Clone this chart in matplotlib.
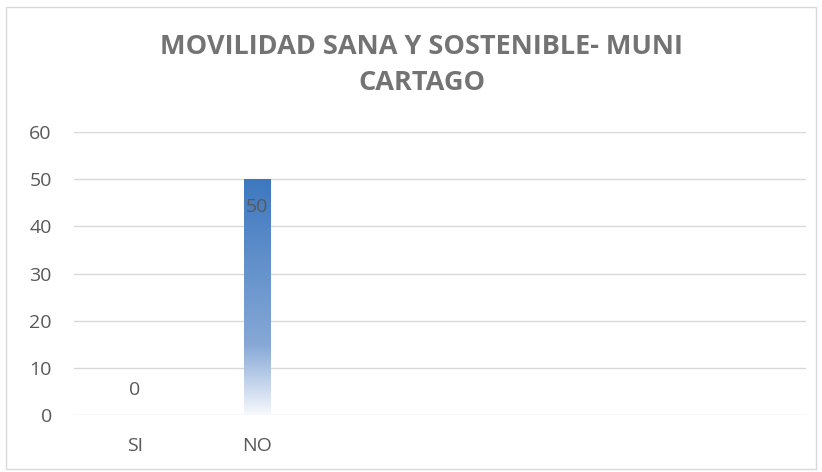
import matplotlib.pyplot as plt
import numpy as np
from matplotlib.colors import LinearSegmentedColormap
from matplotlib.patches import Rectangle

categories = ['SI', 'NO', '', '', '', '']
values = [0, 50, None, None, None, None]
yticks = [0, 10, 20, 30, 40, 50, 60]
title_lines = ['MOVILIDAD SANA Y SOSTENIBLE- MUNI', 'CARTAGO']

grey = '#595959'
plt.rcParams['font.family'] = ['Open Sans', 'DejaVu Sans']

fig = plt.figure(figsize=(8.22, 4.72), dpi=100)
ax = fig.add_axes([0.090, 0.1208, 0.8905, 0.5995])

x = np.arange(len(categories))
heights = [v if v is not None else 0 for v in values]
bars = ax.bar(x, heights, width=0.22, color='none', zorder=3)

# gradient fill, white at bottom to blue at top
cmap = LinearSegmentedColormap.from_list(
    'grad', [(0, '#f7f9fd'), (0.12, '#c9d8ee'), (0.3, '#86a8d6'), (1, '#3d78bf')])
grad = np.linspace(0, 1, 256).reshape(-1, 1)
for b in bars:
    if b.get_height() <= 0:
        continue
    x0, w, h = b.get_x(), b.get_width(), b.get_height()
    ax.imshow(grad, cmap=cmap, origin='lower', aspect='auto',
              extent=[x0, x0 + w, 0, h], zorder=3)

# data labels
for xi, v in zip(x, values):
    if v is None:
        continue
    if v > 0:
        ax.text(xi, v - 6, str(v), ha='center', va='center', fontsize=14,
                color=grey, zorder=4)
    else:
        ax.text(xi, v + 5.3, str(v), ha='center', va='center', fontsize=14,
                color=grey, zorder=4)

ax.set_xlim(-0.5, len(categories) - 0.5)
ax.set_ylim(0, 60)
ax.set_yticks(yticks)
ax.set_xticks(x)
ax.set_xticklabels(categories)
ax.tick_params(length=0, labelsize=14, labelcolor=grey)
ax.tick_params(axis='y', pad=16)
ax.tick_params(axis='x', pad=16)
ax.grid(axis='y', color='#d9d9d9', linewidth=1, zorder=0)
ax.set_axisbelow(True)
for s in ax.spines.values():
    s.set_visible(False)

# title, two centred lines
for line, yb in zip(title_lines, [0.8856, 0.8093]):
    fig.text(0.513, yb, line, ha='center', va='baseline', fontsize=19.5,
             fontweight='bold', color='#737373')

fig.patches.append(Rectangle((0.007, 0.006), 0.986, 0.98, transform=fig.transFigure,
                             fill=False, edgecolor='#d9d9d9', linewidth=1))

fig.savefig('out.png', dpi=100)
